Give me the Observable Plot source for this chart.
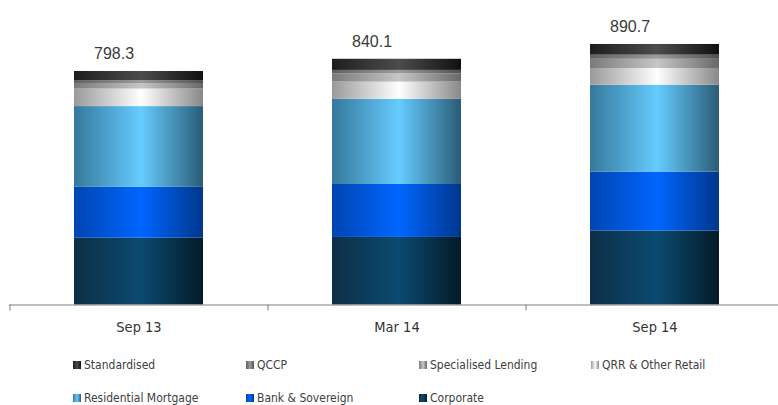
<!DOCTYPE html>
<html>
<head>
<meta charset="utf-8">
<script src="https://cdn.jsdelivr.net/npm/d3@7"></script>
<script src="https://cdn.jsdelivr.net/npm/@observablehq/plot@0.6"></script>
<style>
  body { margin: 0; background: #fff; overflow: hidden; }
  #chart { position: relative; width: 778px; height: 405px; }
  .legend { position: absolute; left: 0; top: 340px; width: 778px; height: 65px;
            font-family: "DejaVu Sans Condensed", "DejaVu Sans", sans-serif; font-size: 12px; color: #404040; }
  .item { position: absolute; display: flex; align-items: center; white-space: nowrap; line-height: 14px; }
  .sw { width: 8px; height: 8px; margin-right: 3px; flex: none; }
</style>
</head>
<body>
<div id="chart"></div>
<script>
// Reporting periods
const periods = ["Sep 13", "Mar 14", "Sep 14"];

// Exposure classes, stacked from the bottom up
const series = ["Corporate", "Bank & Sovereign", "Residential Mortgage", "QRR & Other Retail",
                "Specialised Lending", "QCCP", "Standardised"];

// Values per period (same order as periods)
const corporate    = [228.3, 231.0, 252.6];
const bankSov      = [174.0, 181.0, 202.0];
const residential  = [276.0, 291.0, 297.0];
const qrrRetail    = [60.0, 59.0, 57.0];
const specialised  = [19.0, 28.0, 31.5];
const qccp         = [10.0, 12.0, 14.0];
const standardised = [31.0, 38.1, 36.6];

// Period totals shown above the bars
const totals = [798.3, 840.1, 890.7];

// Legend reading order
const legendOrder = ["Standardised", "QCCP", "Specialised Lending", "QRR & Other Retail",
                     "Residential Mortgage", "Bank & Sovereign", "Corporate"];

// Horizontal shading of each class: left edge, highlight, right edge
const shades = {
  "Corporate":            ["#0d2f46", "#0b4a70", "#041a28"],
  "Bank & Sovereign":     ["#0045b2", "#0066ff", "#00368c"],
  "Residential Mortgage": ["#35789c", "#66ccff", "#2a5c76"],
  "QRR & Other Retail":   ["#9a9a9a", "#ffffff", "#888888"],
  "Specialised Lending":  ["#7a7a7a", "#c6c6c6", "#686868"],
  "QCCP":                 ["#606060", "#9c9c9c", "#505050"],
  "Standardised":         ["#1e1e1e", "#4c4c4c", "#101010"]
};

const columns = [corporate, bankSov, residential, qrrRetail, specialised, qccp, standardised];
const rows = [];
periods.forEach((p, i) => {
  series.forEach((s, j) => rows.push({period: p, series: s, value: columns[j][i]}));
});
const totalRows = periods.map((p, i) => ({period: p, total: totals[i]}));

const gradId = s => "grad-" + series.indexOf(s);

const chart = Plot.plot({
  width: 778,
  height: 340,
  marginTop: 12,
  marginBottom: 35.5,
  marginLeft: 9,
  marginRight: 0,
  style: {fontFamily: "'DejaVu Sans Condensed', 'DejaVu Sans', sans-serif", fontSize: "14.5px", background: "#fff"},
  x: {domain: periods, range: [9, 783], paddingInner: 0.5, paddingOuter: 0.25, label: null},
  y: {domain: [0, 1000], axis: null},
  color: {type: "ordinal", domain: series, range: series.map(s => `url(#${gradId(s)})`)},
  marks: [
    Plot.barY(rows, {x: "period", y: "value", fill: "series", order: series, inset: 0}),
    Plot.ruleY([0], {stroke: "#7f7f7f", strokeWidth: 1}),
    Plot.axisX({tickSize: 0, tickPadding: 16.5, color: "#333", fontSize: 14.5}),
    Plot.text(totalRows, {
      x: "period", y: "total", text: d => d3.format(".1f")(d.total),
      dx: -25, dy: -12.5, lineAnchor: "bottom",
      fontFamily: "'Liberation Sans', Arial, sans-serif", fontSize: 16, fill: "#3a3a3a"
    })
  ]
});

// Gradient definitions referenced by the bar fills
const svg = d3.select(chart);
const defs = svg.insert("defs", ":first-child");
series.forEach(s => {
  const [a, b, c] = shades[s];
  const g = defs.append("linearGradient").attr("id", gradId(s))
    .attr("x1", 0).attr("x2", 1).attr("y1", 0).attr("y2", 0);
  g.append("stop").attr("offset", "0%").attr("stop-color", a);
  g.append("stop").attr("offset", "52%").attr("stop-color", b);
  g.append("stop").attr("offset", "100%").attr("stop-color", c);
});

// Tick marks on the category boundaries, below the baseline
const xs = chart.scale("x");
const ys = chart.scale("y");
const base = ys.apply(0);
const gap = (xs.step - xs.bandwidth) / 2;
const bounds = periods.map(p => xs.apply(p) - gap).concat([xs.apply(periods[periods.length - 1]) + xs.bandwidth + gap]);
svg.append("g").attr("stroke", "#7f7f7f").selectAll("line").data(bounds).join("line")
  .attr("x1", d => d + 0.5).attr("x2", d => d + 0.5)
  .attr("y1", base).attr("y2", base + 6);

const root = document.getElementById("chart");
root.appendChild(chart);

// Legend: two rows, four columns
const legend = d3.select(root).append("div").attr("class", "legend");
const colX = [73, 246, 419, 591];
const rowY = [18, 51];
legendOrder.forEach((s, i) => {
  const [a, b, c] = shades[s];
  const item = legend.append("div").attr("class", "item")
    .style("left", colX[i % 4] + "px").style("top", rowY[Math.floor(i / 4)] + "px");
  item.append("div").attr("class", "sw")
    .style("background", `linear-gradient(to right, ${a} 0%, ${b} 52%, ${c} 100%)`);
  item.append("span").text(s);
});
</script>
</body>
</html>
